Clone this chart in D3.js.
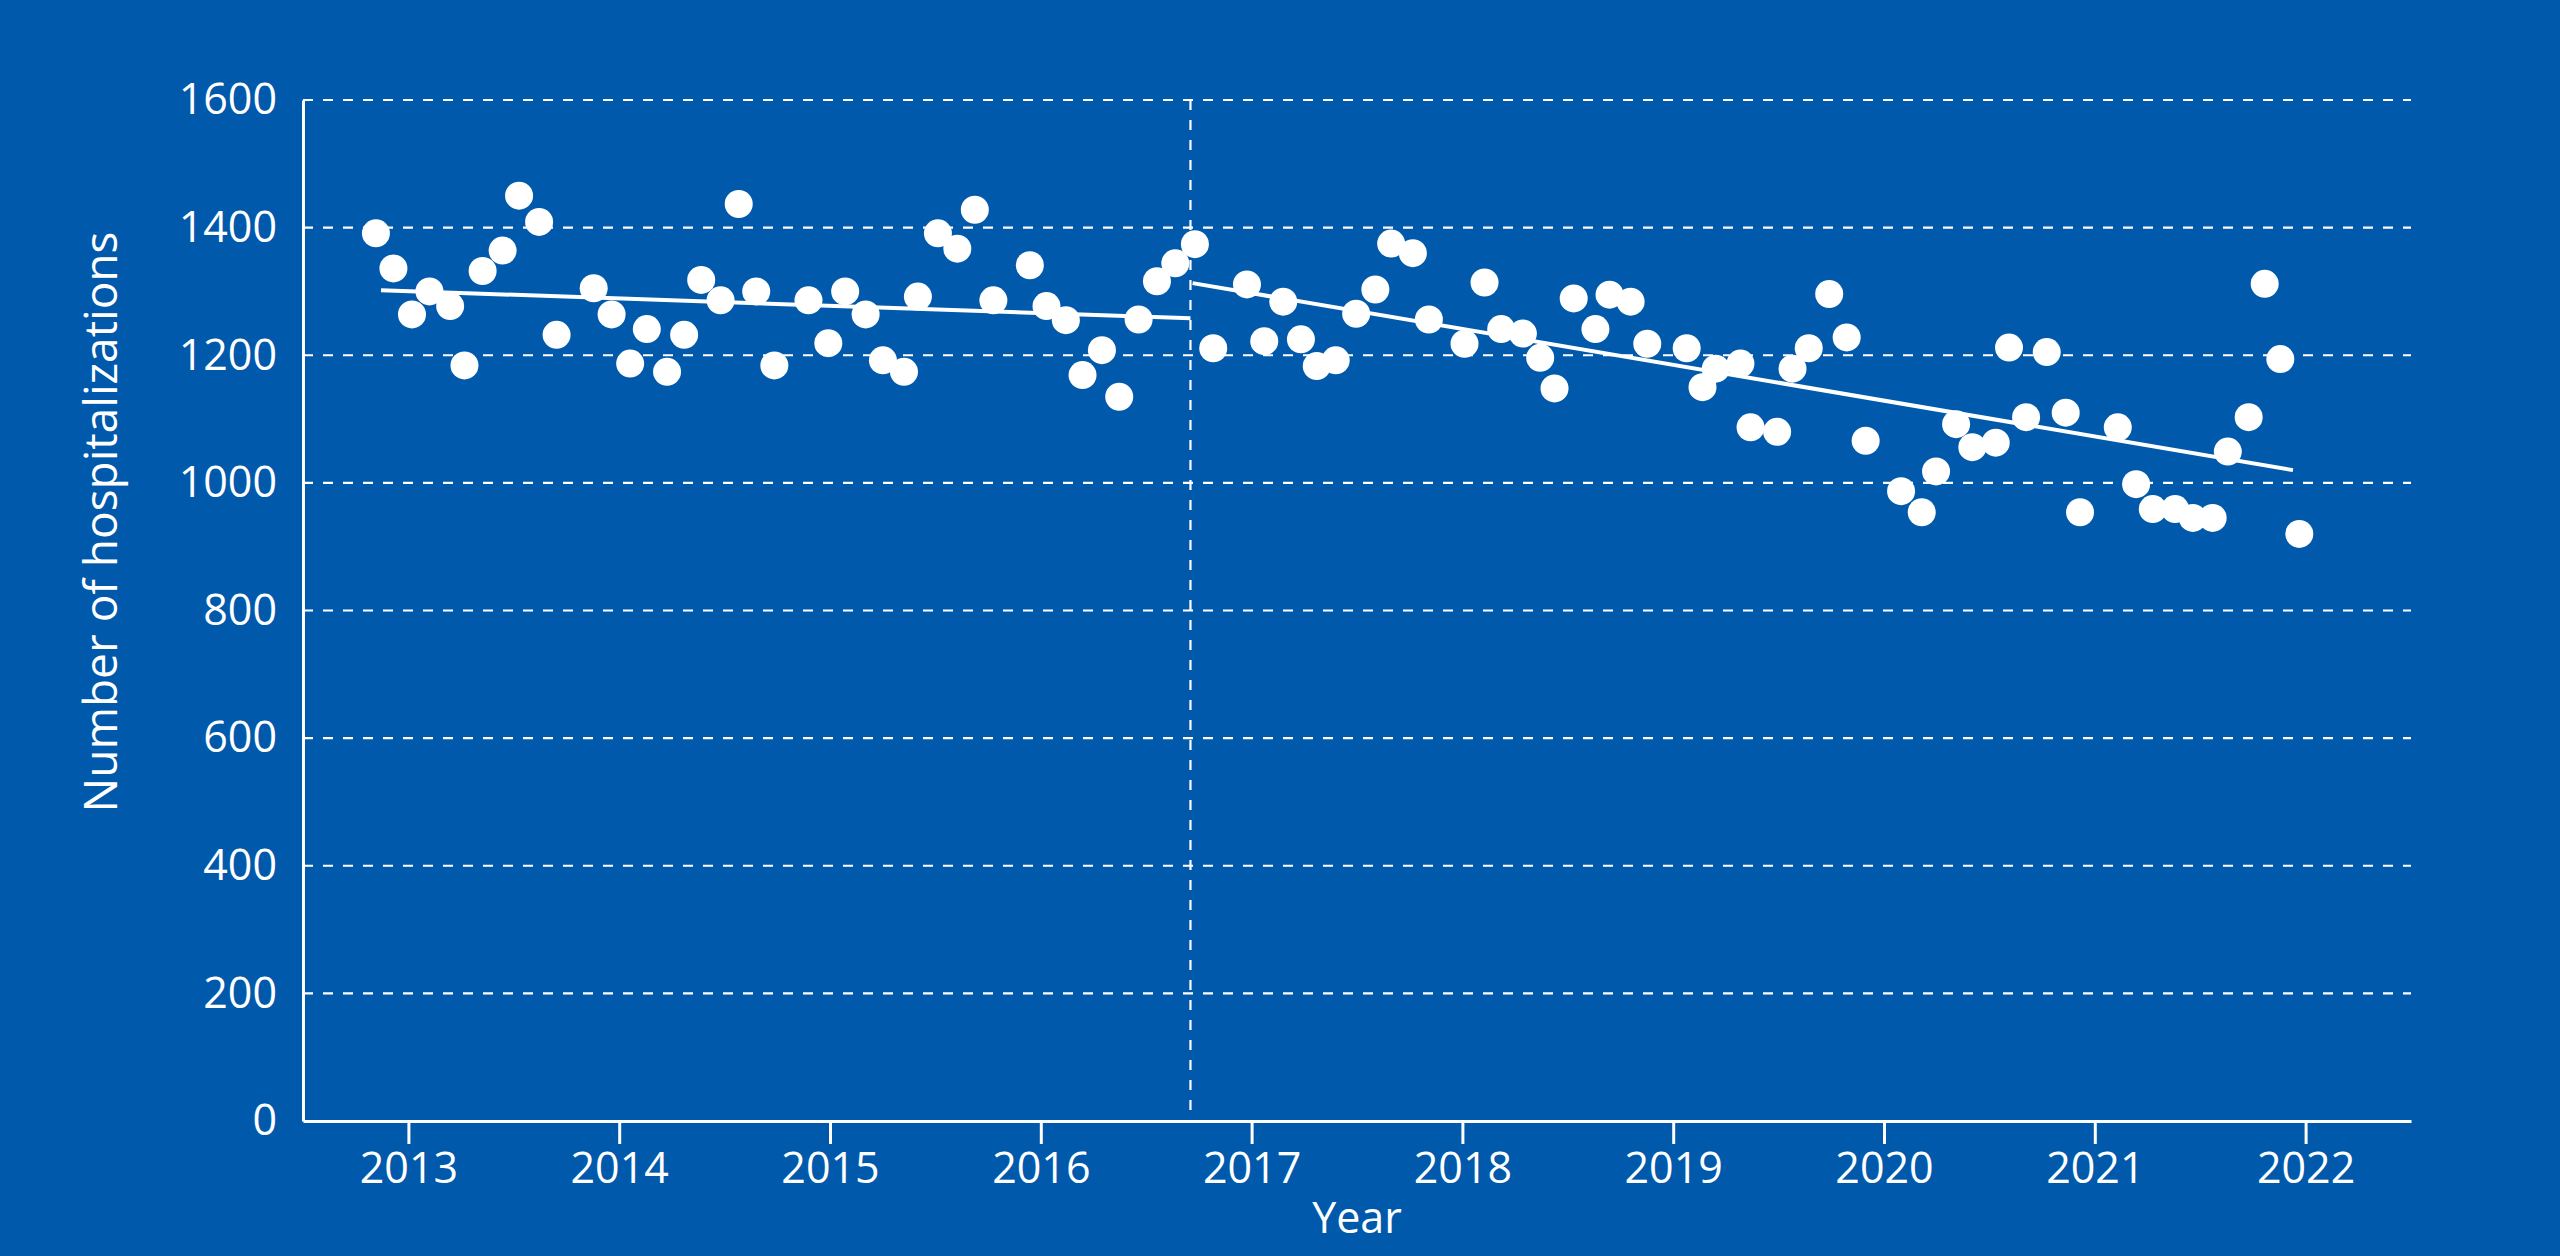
<!DOCTYPE html>
<html lang="en">
<head>
<meta charset="utf-8">
<title>Number of hospitalizations per month, 2013-2022</title>
<script src="https://cdn.jsdelivr.net/npm/d3@7"></script>
<style>
  body { margin: 0; background: #0059ab; }
  .axis text, .label {
    font-family: "Open Sans", sans-serif;
    fill: #fff;
  }
  .axis path, .axis line { stroke: #fff; stroke-width: 3px; }
  .grid { stroke: #fff; stroke-width: 2.2px; stroke-dasharray: 10,10; }
</style>
</head>
<body>
<script>

// points: x as decimal year, y as number of hospitalizations
var pointYears = [
  2012.846, 2012.929, 2013.017, 2013.100, 2013.198, 2013.266, 2013.352, 2013.447, 2013.525, 2013.620, 2013.703,
  2013.879, 2013.964, 2014.052, 2014.131, 2014.227, 2014.308, 2014.389, 2014.481, 2014.567, 2014.650, 2014.736,
  2014.898, 2014.992, 2015.072, 2015.169, 2015.251, 2015.351, 2015.417, 2015.512, 2015.604, 2015.687, 2015.775,
  2015.948, 2016.027, 2016.119, 2016.198, 2016.290, 2016.372, 2016.464, 2016.551, 2016.638, 2016.731, 2016.818,
  2016.978, 2017.060, 2017.150, 2017.234, 2017.309, 2017.399, 2017.496, 2017.587, 2017.662, 2017.765, 2017.841,
  2018.010, 2018.105, 2018.184, 2018.287, 2018.369, 2018.437, 2018.528, 2018.631, 2018.698, 2018.798, 2018.877,
  2019.064, 2019.139, 2019.202, 2019.319, 2019.367, 2019.493, 2019.566, 2019.643, 2019.740, 2019.823, 2019.913,
  2020.081, 2020.179, 2020.247, 2020.342, 2020.419, 2020.530, 2020.593, 2020.674, 2020.772, 2020.862, 2020.930,
  2021.109, 2021.196, 2021.275, 2021.381, 2021.465, 2021.559, 2021.631, 2021.730, 2021.806, 2021.880, 2021.970
];
var pointValues = [
  1391, 1336, 1264, 1300, 1277, 1184, 1332, 1364, 1450, 1409, 1232,
  1305, 1264, 1187, 1241, 1174, 1232, 1318, 1286, 1437, 1300, 1184,
  1286, 1219, 1300, 1264, 1192, 1174, 1292, 1391, 1367, 1428, 1286,
  1341, 1277, 1255, 1169, 1208, 1135, 1256, 1316, 1344, 1374, 1211,
  1311, 1222, 1284, 1225, 1183, 1192, 1265, 1303, 1375, 1360, 1256,
  1218, 1314, 1241, 1234, 1196, 1148, 1289, 1241, 1295, 1284, 1218,
  1211, 1150, 1179, 1187, 1087, 1080, 1179, 1211, 1296, 1228, 1066,
  987, 954, 1018, 1092, 1056, 1063, 1212, 1103, 1205, 1110, 954,
  1087, 998, 959, 959, 945, 945, 1049, 1103, 1312, 1194, 920
];

// trend before and after the break
var trendYearsBefore = [2012.87, 2016.71];
var trendValuesBefore = [1302, 1258];
var trendYearsAfter = [2016.72, 2021.94];
var trendValuesAfter = [1313, 1020];

var breakYear = 2016.71;

var yearTicks = [2013, 2014, 2015, 2016, 2017, 2018, 2019, 2020, 2021, 2022];
var countTicks = [0, 200, 400, 600, 800, 1000, 1200, 1400, 1600];

var w = 2560, h = 1256;
var padL = 303, padR = 2411, padT = 100, padB = 1121;

var x = d3.scaleLinear().domain([2012.5, 2022.5]).range([padL, padR]);
var y = d3.scaleLinear().domain([0, 1600]).range([padB, padT]);

var svg = d3.select("body").append("svg").attr("width", w).attr("height", h);

svg.append("rect").attr("width", w).attr("height", h).attr("fill", "#0059ab");

// dashed grid
svg.append("g").selectAll("line")
   .data(countTicks.filter(function(d) { return d > 0; }))
   .enter().append("line")
   .attr("class", "grid")
   .attr("x1", padL).attr("x2", padR)
   .attr("y1", function(d) { return y(d); })
   .attr("y2", function(d) { return y(d); });

// break line
svg.append("line").attr("class", "grid")
   .attr("x1", x(breakYear)).attr("x2", x(breakYear))
   .attr("y1", y(1600)).attr("y2", y(0));

// axes
svg.append("g").attr("class", "axis")
   .attr("transform", "translate(0," + padB + ")")
   .call(d3.axisBottom(x).tickValues(yearTicks).tickFormat(d3.format("d"))
           .tickSize(23).tickSizeOuter(0).tickPadding(8))
   .selectAll("text").style("font-size", "43px");

svg.append("g").attr("class", "axis")
   .attr("transform", "translate(" + padL + ",0)")
   .call(d3.axisLeft(y).tickValues(countTicks).tickFormat(d3.format("d"))
           .tickSize(0).tickSizeOuter(0).tickPadding(26))
   .selectAll("text").style("font-size", "43px");

// trend lines
var line = d3.line()
   .x(function(d) { return x(d[0]); })
   .y(function(d) { return y(d[1]); });

[[trendYearsBefore, trendValuesBefore], [trendYearsAfter, trendValuesAfter]].forEach(function(t) {
   svg.append("path")
      .datum(d3.zip(t[0], t[1]))
      .attr("d", line)
      .attr("fill", "none")
      .attr("stroke", "#fff")
      .attr("stroke-width", 4);
});

// points
svg.append("g").selectAll("circle")
   .data(d3.zip(pointYears, pointValues))
   .enter().append("circle")
   .attr("cx", function(d) { return x(d[0]); })
   .attr("cy", function(d) { return y(d[1]); })
   .attr("r", 14)
   .attr("fill", "#fff");

// axis titles
svg.append("text").attr("class", "label")
   .attr("x", (padL + padR) / 2).attr("y", 1233)
   .attr("text-anchor", "middle")
   .style("font-size", "43px")
   .text("Year");

svg.append("text").attr("class", "label")
   .attr("transform", "translate(117,522) rotate(-90)")
   .attr("text-anchor", "middle")
   .style("font-size", "46px")
   .text("Number of hospitalizations");

</script>
</body>
</html>
